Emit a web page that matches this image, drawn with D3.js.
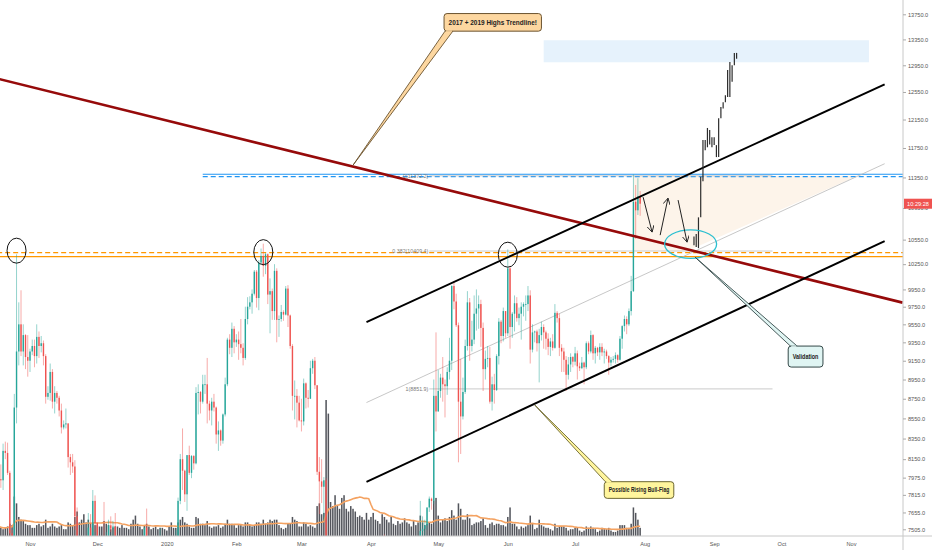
<!DOCTYPE html>
<html><head><meta charset="utf-8">
<script src="https://cdn.jsdelivr.net/npm/d3@7"></script>
<style>body{margin:0;background:#fff}svg{display:block}text{font-family:"Liberation Sans",Arial,sans-serif}</style>
</head><body><svg id="c" width="932" height="550"></svg>
<script>
// [date, open, high, low, close, volume]
const dailyBars = [
["2019-10-18",8080,8120,7860,7960,7],["2019-10-19",7960,8100,7880,7950,6],["2019-10-20",7950,8300,7860,8230,5],["2019-10-21",8230,8320,8150,8210,6],["2019-10-22",8210,8310,8000,8020,7],["2019-10-23",8020,8040,7300,7470,9],["2019-10-24",7470,7500,7370,7430,8],["2019-10-25",7430,8800,7400,8660,29],["2019-10-26",8660,10370,8500,9250,24],["2019-10-27",9250,9800,9100,9550,14],["2019-10-28",9550,9940,9200,9250,12],["2019-10-29",9250,9550,9100,9430,11],["2019-10-30",9430,9440,9060,9190,9],["2019-10-31",9190,9430,8980,9150,8],
["2019-11-01",9150,9280,9030,9250,8],["2019-11-02",9250,9380,9210,9310,6],["2019-11-03",9310,9380,9080,9200,6],["2019-11-04",9200,9550,9120,9410,8],["2019-11-05",9410,9470,9180,9310,9],["2019-11-06",9310,9420,9240,9340,7],["2019-11-07",9340,9370,9100,9200,8],["2019-11-08",9200,9220,8700,8770,12],["2019-11-09",8770,8880,8740,8810,6],["2019-11-10",8810,9120,8730,9030,7],["2019-11-11",9030,9060,8650,8720,9],["2019-11-12",8720,8880,8600,8810,7],["2019-11-13",8810,8830,8700,8760,6],["2019-11-14",8760,8780,8570,8630,7],["2019-11-15",8630,8700,8400,8460,8],["2019-11-16",8460,8530,8440,8490,5],["2019-11-17",8490,8650,8450,8500,5],["2019-11-18",8500,8500,8070,8170,10],["2019-11-19",8170,8200,8000,8120,9],["2019-11-20",8120,8200,8020,8080,8],["2019-11-21",8080,8140,7500,7620,14],["2019-11-22",7620,7700,6800,7280,18],["2019-11-23",7280,7340,7140,7320,10],["2019-11-24",7320,7330,6850,6900,12],["2019-11-25",6900,7350,6530,7150,16],["2019-11-26",7150,7300,7060,7170,10],["2019-11-27",7170,7650,6880,7520,12],["2019-11-28",7520,7640,7380,7430,9],["2019-11-29",7430,7860,7420,7760,10],["2019-11-30",7760,7810,7480,7560,8],
["2019-12-01",7560,7570,7230,7400,8],["2019-12-02",7400,7420,7250,7300,7],["2019-12-03",7300,7400,7260,7300,7],["2019-12-04",7300,7750,7080,7200,11],["2019-12-05",7200,7480,7170,7390,9],["2019-12-06",7390,7590,7320,7540,8],["2019-12-07",7540,7620,7480,7510,5],["2019-12-08",7510,7580,7420,7530,6],["2019-12-09",7530,7650,7290,7340,7],["2019-12-10",7340,7400,7170,7220,7],["2019-12-11",7220,7260,7140,7200,6],["2019-12-12",7200,7280,7080,7190,8],["2019-12-13",7190,7300,7180,7250,6],["2019-12-14",7250,7260,7040,7070,6],["2019-12-15",7070,7200,7020,7110,5],["2019-12-16",7110,7140,6860,6880,9],["2019-12-17",6880,6930,6570,6610,12],["2019-12-18",6610,7440,6430,7280,15],["2019-12-19",7280,7360,7050,7150,9],["2019-12-20",7150,7220,7100,7190,7],["2019-12-21",7190,7200,7100,7140,5],["2019-12-22",7140,7520,7130,7520,8],["2019-12-23",7520,7690,7270,7320,9],["2019-12-24",7320,7440,7160,7250,7],["2019-12-25",7250,7270,7130,7200,5],["2019-12-26",7200,7440,7160,7200,6],["2019-12-27",7200,7270,7080,7250,7],["2019-12-28",7250,7360,7240,7320,5],["2019-12-29",7320,7520,7290,7390,6],["2019-12-30",7390,7420,7220,7220,6],["2019-12-31",7220,7310,7130,7170,5],
["2020-01-01",7170,7250,7150,7180,4],["2020-01-02",7180,7210,6930,6950,7],["2020-01-03",6950,7400,6870,7340,10],["2020-01-04",7340,7400,7260,7350,6],["2020-01-05",7350,7500,7320,7360,6],["2020-01-06",7360,7790,7350,7760,10],["2020-01-07",7760,8200,7730,8150,12],["2020-01-08",8150,8450,7860,8040,14],["2020-01-09",8040,8050,7750,7820,10],["2020-01-10",7820,8180,7670,8190,9],["2020-01-11",8190,8280,8000,8020,7],["2020-01-12",8020,8190,7970,8180,6],["2020-01-13",8180,8190,8050,8110,6],["2020-01-14",8110,8870,8100,8810,14],["2020-01-15",8810,8900,8590,8820,13],["2020-01-16",8820,8830,8600,8720,9],["2020-01-17",8720,9000,8700,8900,9],["2020-01-18",8900,9000,8800,8900,8],["2020-01-19",8900,9180,8500,8700,11],["2020-01-20",8700,8730,8530,8630,7],["2020-01-21",8630,8760,8480,8720,6],["2020-01-22",8720,8800,8620,8660,7],["2020-01-23",8660,8670,8300,8390,7],["2020-01-24",8390,8520,8230,8430,8],["2020-01-25",8430,8440,8280,8330,6],["2020-01-26",8330,8600,8300,8590,7],["2020-01-27",8590,8970,8570,8900,9],["2020-01-28",8900,9400,8880,9380,12],["2020-01-29",9380,9440,9220,9290,9],["2020-01-30",9290,9570,9190,9500,9],["2020-01-31",9500,9530,9230,9350,8],
["2020-02-01",9350,9440,9300,9380,6],["2020-02-02",9380,9470,9160,9330,8],["2020-02-03",9330,9610,9230,9290,8],["2020-02-04",9290,9340,9100,9180,7],["2020-02-05",9180,9750,9160,9610,10],["2020-02-06",9610,9860,9550,9750,10],["2020-02-07",9750,9870,9720,9800,8],["2020-02-08",9800,9950,9670,9900,7],["2020-02-09",9900,10180,9880,10160,8],["2020-02-10",10160,10180,9740,9850,10],["2020-02-11",9850,10300,9710,10270,10],["2020-02-12",10270,10440,10250,10350,9],["2020-02-13",10350,10500,10100,10230,12],["2020-02-14",10230,10390,10130,10370,9],["2020-02-15",10370,10380,9780,9890,10],["2020-02-16",9890,10080,9450,9930,12],["2020-02-17",9930,9960,9600,9700,11],["2020-02-18",9700,10250,9600,10170,12],["2020-02-19",10170,10200,9350,9600,12],["2020-02-20",9600,9650,9410,9610,8],["2020-02-21",9610,9770,9580,9690,6],["2020-02-22",9690,9710,9590,9660,5],["2020-02-23",9660,9990,9650,9960,6],["2020-02-24",9960,10000,9520,9650,9],["2020-02-25",9650,9660,9280,9310,9],["2020-02-26",9310,9330,8630,8780,14],["2020-02-27",8780,8940,8540,8780,12],["2020-02-28",8780,8850,8460,8710,11],["2020-02-29",8710,8780,8520,8530,7],
["2020-03-01",8530,8750,8420,8520,7],["2020-03-02",8520,8960,8480,8910,10],["2020-03-03",8910,8920,8650,8760,9],["2020-03-04",8760,8840,8660,8750,7],["2020-03-05",8750,9150,8750,9070,8],["2020-03-06",9070,9170,9010,9150,7],["2020-03-07",9150,9190,8850,8890,6],["2020-03-08",8890,8890,8000,8030,22],["2020-03-09",8030,8170,7640,7940,24],["2020-03-10",7940,8150,7740,7890,16],["2020-03-11",7890,7980,7580,7950,17],["2020-03-12",7950,7970,4780,4850,100],["2020-03-13",4850,5980,3850,5600,90],["2020-03-14",5600,5640,5090,5170,25],["2020-03-15",5170,5940,5100,5360,22],["2020-03-16",5360,5370,4440,5020,30],["2020-03-17",5020,5540,4930,5330,22],["2020-03-18",5330,5420,5070,5410,20],["2020-03-19",5410,6380,5260,6180,28],["2020-03-20",6180,6890,5710,6200,30],["2020-03-21",6200,6440,5870,6190,20],["2020-03-22",6190,6420,5760,5830,18],["2020-03-23",5830,6620,5690,6480,22],["2020-03-24",6480,6840,6400,6760,20],["2020-03-25",6760,6980,6480,6690,18],["2020-03-26",6690,6790,6540,6740,14],["2020-03-27",6740,6870,6300,6370,15],["2020-03-28",6370,6370,6030,6250,14],["2020-03-29",6250,6260,5870,5880,12],["2020-03-30",5880,6600,5860,6390,17],["2020-03-31",6390,6520,6360,6410,12],
["2020-04-01",6410,6680,6160,6640,14],["2020-04-02",6640,7200,6590,6810,17],["2020-04-03",6810,7050,6680,6740,12],["2020-04-04",6740,6990,6690,6860,11],["2020-04-05",6860,6880,6680,6770,9],["2020-04-06",6770,7360,6760,7340,16],["2020-04-07",7340,7460,7100,7200,14],["2020-04-08",7200,7410,7160,7370,12],["2020-04-09",7370,7380,7120,7300,10],["2020-04-10",7300,7300,6770,6860,14],["2020-04-11",6860,6950,6780,6890,9],["2020-04-12",6890,7180,6800,6910,8],["2020-04-13",6910,6920,6600,6860,11],["2020-04-14",6860,6980,6790,6880,9],["2020-04-15",6880,6930,6620,6630,10],["2020-04-16",6630,7190,6480,7110,13],["2020-04-17",7110,7150,7000,7030,10],["2020-04-18",7030,7300,7020,7250,9],["2020-04-19",7250,7250,7060,7130,7],["2020-04-20",7130,7210,6800,6850,11],["2020-04-21",6850,6930,6810,6850,8],["2020-04-22",6850,7160,6830,7130,10],["2020-04-23",7130,7760,7040,7490,15],["2020-04-24",7490,7620,7440,7510,10],["2020-04-25",7510,7590,7450,7540,8],["2020-04-26",7540,7700,7500,7700,9],["2020-04-27",7700,7800,7660,7780,10],["2020-04-28",7780,7790,7680,7760,9],["2020-04-29",7760,8950,7730,8780,26],["2020-04-30",8780,9460,8420,8620,28],
["2020-05-01",8620,9050,8620,8830,15],["2020-05-02",8830,9010,8760,8970,10],["2020-05-03",8970,9190,8720,8900,12],["2020-05-04",8900,8950,8560,8880,13],["2020-05-05",8880,9080,8790,9030,11],["2020-05-06",9030,9400,8950,9150,14],["2020-05-07",9150,10000,9050,9990,19],["2020-05-08",9990,10050,9720,9810,15],["2020-05-09",9810,9900,9520,9540,12],["2020-05-10",9540,9570,8120,8720,24],["2020-05-11",8720,9170,8200,8570,20],["2020-05-12",8570,8970,8540,8820,12],["2020-05-13",8820,9380,8800,9310,12],["2020-05-14",9310,9930,9260,9800,16],["2020-05-15",9800,9850,9150,9310,13],["2020-05-16",9310,9590,9250,9380,8],["2020-05-17",9380,9880,9330,9670,9],["2020-05-18",9670,9950,9480,9730,10],["2020-05-19",9730,9880,9500,9780,10],["2020-05-20",9780,9830,9300,9510,11],["2020-05-21",9510,9570,8830,9060,13],["2020-05-22",9060,9260,8950,9170,8],["2020-05-23",9170,9310,9080,9180,6],["2020-05-24",9180,9300,8700,8720,9],["2020-05-25",8720,8980,8630,8900,10],["2020-05-26",8900,9010,8700,8840,8],["2020-05-27",8840,9220,8830,9200,9],["2020-05-28",9200,9620,9110,9580,9],["2020-05-29",9580,9600,9340,9420,8],["2020-05-30",9420,9740,9360,9700,8],["2020-05-31",9700,9700,9400,9450,7],
["2020-06-01",9450,10430,9420,10200,14],["2020-06-02",10200,10230,9280,9520,21],["2020-06-03",9520,9690,9400,9670,9],["2020-06-04",9670,9880,9470,9790,9],["2020-06-05",9790,9860,9580,9620,7],["2020-06-06",9620,9740,9540,9670,5],["2020-06-07",9670,9800,9380,9750,7],["2020-06-08",9750,9800,9640,9780,6],["2020-06-09",9780,9880,9590,9780,7],["2020-06-10",9780,9990,9700,9880,8],["2020-06-11",9880,9940,9120,9270,15],["2020-06-12",9270,9550,9240,9460,9],["2020-06-13",9460,9480,9350,9470,5],["2020-06-14",9470,9490,9250,9340,6],["2020-06-15",9340,9500,8920,9430,12],["2020-06-16",9430,9580,9370,9520,8],["2020-06-17",9520,9550,9280,9460,7],["2020-06-18",9460,9480,9270,9390,6],["2020-06-19",9390,9450,9210,9300,6],["2020-06-20",9300,9400,9200,9360,5],["2020-06-21",9360,9440,9260,9290,4],["2020-06-22",9290,9780,9280,9680,9],["2020-06-23",9680,9700,9570,9620,6],["2020-06-24",9620,9670,9200,9290,7],["2020-06-25",9290,9330,9030,9250,7],["2020-06-26",9250,9290,9030,9160,7],["2020-06-27",9160,9200,8830,9000,6],["2020-06-28",9000,9190,8950,9110,4],["2020-06-29",9110,9230,9030,9190,5],["2020-06-30",9190,9200,9080,9140,5],
["2020-07-01",9140,9300,9100,9230,6],["2020-07-02",9230,9260,8950,9090,6],["2020-07-03",9090,9130,9040,9070,4],["2020-07-04",9070,9190,9060,9130,3],["2020-07-05",9130,9140,8900,9080,4],["2020-07-06",9080,9360,9060,9340,7],["2020-07-07",9340,9360,9220,9250,6],["2020-07-08",9250,9480,9230,9430,7],["2020-07-09",9430,9440,9160,9230,6],["2020-07-10",9230,9310,9120,9290,5],["2020-07-11",9290,9300,9200,9240,3],["2020-07-12",9240,9340,9160,9300,4],["2020-07-13",9300,9340,9200,9240,6],["2020-07-14",9240,9280,9120,9250,5],["2020-07-15",9250,9270,9170,9200,5],["2020-07-16",9200,9210,9000,9130,6],["2020-07-17",9130,9190,9090,9160,4],["2020-07-18",9160,9200,9130,9170,3],["2020-07-19",9170,9240,9120,9210,3],["2020-07-20",9210,9220,9130,9160,4],["2020-07-21",9160,9420,9150,9390,8],["2020-07-22",9390,9540,9280,9530,8],["2020-07-23",9530,9650,9470,9610,8],["2020-07-24",9610,9640,9440,9550,6],["2020-07-25",9550,9730,9530,9700,6],["2020-07-26",9700,10110,9650,9930,9],["2020-07-27",9930,11390,9920,11030,21],["2020-07-28",11030,11250,10560,10920,17],["2020-07-29",10920,11340,10860,11100,12],["2020-07-30",11100,11170,10850,11005,6]
];
// projected "bars pattern": [date, low, high]
const projection = [
["2020-08-23",10480,10590],["2020-08-24",10460,10620],["2020-08-25",10445,10830],["2020-08-26",10830,11360],["2020-08-27",11300,11860],["2020-08-28",11720,11860],["2020-08-29",11760,12030],["2020-08-30",11800,12000],["2020-08-31",11760,11900],["2020-09-01",11790,11900],["2020-09-02",11625,11790],["2020-09-03",11625,12170],["2020-09-04",12170,12330],["2020-09-05",12310,12400],["2020-09-06",12400,12500],["2020-09-07",12475,12880],["2020-09-08",12475,13000],["2020-09-09",12700,12950],["2020-09-10",12950,13140],["2020-09-11",13050,13140]
];
const yTicks = [13750,13350,12950,12550,12150,11750,11350,10950,10550,10250,9950,9750,9550,9350,9150,8950,8750,8550,8350,8150,7975,7815,7655,7505];
const monthTicks = ["2019-11-01","2019-12-01","2020-01-01","2020-02-01","2020-03-01","2020-04-01","2020-05-01","2020-06-01","2020-07-01","2020-08-01","2020-09-01","2020-10-01","2020-11-01"];
const monthLabels = ["Nov","Dec","2020","Feb","Mar","Apr","May","Jun","Jul","Aug","Sep","Oct","Nov"];
const fibLevels = [[0,11372.2],[0.382,10409.4],[1,8851.9]];
const fibSpan = ["2020-04-27","2020-09-27"];
// horizontal levels: [price, colour, dashed, startDate]
const hLevels = [[11392,"#2196f3",false,"2020-01-17"],[11360,"#2196f3",true,"2020-01-17"],[10390,"#ff9800",true,"2019-09-01"],[10341,"#ff9800",false,"2019-09-01"]];
const trendline = [["2019-10-01",12887],["2020-11-24",9797]];
const channelUpper = [["2020-03-30",9575],["2020-11-16",12662]];
const channelLower = [["2020-03-30",7935],["2020-11-16",10531]];
const channelMid = [["2020-03-30",8711],["2020-11-16",11535]];
const targetZone = [["2020-06-17",13337],["2020-11-09",12996]];
const shadedZone = [["2020-07-27",11372.2],["2020-11-04",11372.2],["2020-08-20",10409.4],["2020-07-27",10409.4]];
const highCircles = [["2019-10-26",10414],["2020-02-13",10396],["2020-06-01",10365]];
const validationEllipse = ["2020-08-21T12:00",10495];
const arrows = [[["2020-07-31T08:00",11090],["2020-08-04T08:00",10644]],[["2020-08-07T22:00",10606],["2020-08-11T10:00",11077]],[["2020-08-15T22:00",11052],["2020-08-19T22:00",10519]]];
const callouts = [
 {text:"2017 + 2019 Highs Trendline!", box:["2020-05-03T14:00",13762,"2020-06-16",13480], base:["2020-05-04","2020-05-07T12:00"], edge:"bottom", tip:["2020-03-24",11515], fill:"#fdd7a0", stroke:"#6b5330"},
 {text:"Possible Rising Bull-Flag", box:["2020-07-14",7937,"2020-08-14",7783], base:["2020-07-14T12:00","2020-07-17T12:00"], edge:"top", tip:["2020-06-13",8686], fill:"#fff59d", stroke:"#6b6530"},
 {text:"Validation", box:["2020-10-04",9309,"2020-10-19T12:00",9082], base:["2020-10-05","2020-10-08"], edge:"top", tip:["2020-08-23T12:00",10335], fill:"#e0f5f3", stroke:"#344848"}
];
const lastPrice = 11005, countdown = "10:29:28";

const t = s => new Date(s.length === 10 ? s + "T00:00Z" : s + "Z");
const W = 932, H = 550, axisX = 903, axisY = 536;
const svg = d3.select("#c");
const x = d3.scaleUtc().domain([t("2019-11-01"), t("2020-11-01")]).range([30, 851]);
const y = d3.scaleLog().domain([7505, 13750]).range([529.3, 14.3]);
const vy = d3.scaleLinear().domain([0, 100]).range([axisY, 400]);
const P = d => [x(t(d[0])), y(d[1])];
const dayW = x(t("2019-11-02")) - x(t("2019-11-01"));

svg.append("defs").append("clipPath").attr("id","plot").append("rect").attr("x",0).attr("y",0).attr("width",axisX).attr("height",axisY);
const defs = svg.select("defs");
defs.append("marker").attr("id","ah").attr("viewBox","0 0 10 10").attr("refX",9).attr("refY",5)
 .attr("markerWidth",7).attr("markerHeight",7).attr("orient","auto").attr("markerUnits","userSpaceOnUse")
 .append("path").attr("d","M0,0 L9,5 L0,10").attr("fill","none").attr("stroke","#222").attr("stroke-width",1.3);

const g = svg.append("g").attr("clip-path","url(#plot)");

// target zone
{const a=P(targetZone[0]), b=P(targetZone[1]);
 g.append("rect").attr("x",a[0]).attr("y",a[1]).attr("width",b[0]-a[0]).attr("height",b[1]-a[1]).attr("fill","#e6f2fc");}
// shaded fib zone
g.append("polygon").attr("points", shadedZone.map(P).map(p=>p.join(",")).join(" ")).attr("fill","#fdf4ea");

// volume
g.append("g").selectAll("rect").data(dailyBars).join("rect")
 .attr("x", d => x(t(d[0])) - dayW*0.34).attr("width", dayW*0.68)
 .attr("y", d => vy(d[5])).attr("height", d => axisY - vy(d[5])).attr("fill","#3b3e45").attr("opacity",0.88);
// volume MA 20
const ma = dailyBars.map((d,i) => { const w = dailyBars.slice(Math.max(0,i-19), i+1); return [d[0], d3.mean(w, e => e[5])]; });
g.append("path").datum(ma).attr("fill","none").attr("stroke","#f4a261").attr("stroke-width",1.6)
 .attr("d", d3.line().x(d => x(t(d[0]))).y(d => vy(d[1])));

// horizontal levels
hLevels.forEach(h => {
 g.append("line").attr("x1", x(t(h[3]))).attr("x2", axisX).attr("y1", y(h[0])).attr("y2", y(h[0]))
  .attr("stroke", h[1]).attr("stroke-width", h[2]?1.3:1.1).attr("stroke-dasharray", h[2]?"5,3":null);
});
// fib lines
fibLevels.forEach(f => {
 g.append("line").attr("x1", x(t(fibSpan[0]))).attr("x2", x(t(fibSpan[1]))).attr("y1", y(f[1])).attr("y2", y(f[1]))
  .attr("stroke","#bdbdbd").attr("stroke-width",0.8);
 g.append("text").attr("x", x(t(fibSpan[0])) - 1).attr("y", y(f[1])).attr("dy","0.35em").attr("text-anchor","end")
  .attr("font-size","5.3px").attr("fill","#7a7a7a").text(`${f[0]}(${f[1].toFixed(1)})`);
});

const seg = (pts, col, w) => g.append("line").attr("x1",P(pts[0])[0]).attr("y1",P(pts[0])[1]).attr("x2",P(pts[1])[0]).attr("y2",P(pts[1])[1]).attr("stroke",col).attr("stroke-width",w);
seg(channelMid, "#b9b9b9", 0.8);

// candles
const cg = g.append("g");
dailyBars.forEach(d => {
 const cx = x(t(d[0])), up = d[4] >= d[1], col = up ? "#26a69a" : "#ef5350";
 cg.append("line").attr("x1",cx).attr("x2",cx).attr("y1",y(d[2])).attr("y2",y(d[3])).attr("stroke",col).attr("stroke-width",0.9).attr("stroke-opacity",0.55);
 const yt = y(Math.max(d[1],d[4])), yb = y(Math.min(d[1],d[4]));
 cg.append("rect").attr("x",cx-dayW*0.31).attr("width",dayW*0.62).attr("y",yt).attr("height",Math.max(0.8,yb-yt)).attr("fill",col);
});

seg(trendline, "#960a0a", 2.6);
seg(channelUpper, "#000", 2);
seg(channelLower, "#000", 2);

// projection bars
g.append("g").selectAll("line").data(projection).join("line")
 .attr("x1", d => x(t(d[0]))).attr("x2", d => x(t(d[0]))).attr("y1", d => y(d[1])).attr("y2", d => y(d[2]))
 .attr("stroke","#2d2d2d").attr("stroke-width",1.2);

// circles
highCircles.forEach(c => { const p = P(c);
 g.append("ellipse").attr("cx",p[0]).attr("cy",p[1]).attr("rx",9.5).attr("ry",12.5).attr("fill","none").attr("stroke","#111").attr("stroke-width",1); });
{const p = P(validationEllipse);
 g.append("ellipse").attr("cx",p[0]).attr("cy",p[1]).attr("rx",26).attr("ry",14.3).attr("fill","none").attr("stroke","#2bbfd0").attr("stroke-width",1.3);}
// arrows
arrows.forEach(a => { const p0=P(a[0]), p1=P(a[1]);
 g.append("line").attr("x1",p0[0]).attr("y1",p0[1]).attr("x2",p1[0]).attr("y2",p1[1]).attr("stroke","#222").attr("stroke-width",1).attr("marker-end","url(#ah)"); });

// callouts
callouts.forEach(c => {
 const x1=x(t(c.box[0])), y1=y(c.box[1]), x2=x(t(c.box[2])), y2=y(c.box[3]);
 const by = c.edge === "bottom" ? y2 : y1, b1 = x(t(c.base[0])), b2 = x(t(c.base[1])), tp = P(c.tip);
 svg.append("polygon").attr("points",`${b1},${by} ${tp[0]},${tp[1]} ${b2},${by}`).attr("fill",c.fill).attr("stroke",c.stroke).attr("stroke-width",0.9);
 svg.append("rect").attr("x",x1).attr("y",y1).attr("width",x2-x1).attr("height",y2-y1).attr("rx",3).attr("fill",c.fill).attr("stroke",c.stroke).attr("stroke-width",1);
 svg.append("line").attr("x1",b1+0.8).attr("x2",b2-0.8).attr("y1",by).attr("y2",by).attr("stroke",c.fill).attr("stroke-width",1.4);
 svg.append("text").attr("x",(x1+x2)/2).attr("y",(y1+y2)/2).attr("dy","0.35em").attr("text-anchor","middle")
  .attr("font-size","6.3px").attr("font-weight","bold").attr("fill","#222")
  .attr("textLength", (x2-x1)-9).attr("lengthAdjust","spacingAndGlyphs").text(c.text);
});

// axes
svg.append("line").attr("x1",0).attr("x2",W).attr("y1",axisY).attr("y2",axisY).attr("stroke","#c8c8c8").attr("stroke-width",1);
svg.append("line").attr("x1",axisX).attr("x2",axisX).attr("y1",0).attr("y2",H).attr("stroke","#c8c8c8").attr("stroke-width",1);
const ay = svg.append("g").attr("transform",`translate(${axisX},0)`)
 .call(d3.axisRight(y).tickValues(yTicks).tickFormat(d => d.toFixed(1)).tickSize(3).tickPadding(2));
ay.select(".domain").remove();
ay.selectAll("line").attr("stroke","#aaa");
ay.selectAll("text").attr("font-size","5.6px").attr("fill","#555").attr("font-family","Liberation Sans, Arial, sans-serif");
const ax = svg.append("g").attr("transform",`translate(0,${axisY})`)
 .call(d3.axisBottom(x).tickValues(monthTicks.map(t)).tickFormat((d,i) => monthLabels[i]).tickSize(0).tickPadding(6));
ax.select(".domain").remove();
ax.selectAll("text").attr("font-size","5.6px").attr("fill","#555").attr("font-family","Liberation Sans, Arial, sans-serif");

// last price label
{const py = y(lastPrice);
 svg.append("rect").attr("x",axisX+1).attr("y",py-5).attr("width",W-axisX-1).attr("height",10).attr("fill","#ef5350");
 svg.append("text").attr("x",axisX+15).attr("y",py).attr("dy","0.35em").attr("text-anchor","middle").attr("font-size","5.6px").attr("fill","#fff").text(countdown);}
</script></body></html>
